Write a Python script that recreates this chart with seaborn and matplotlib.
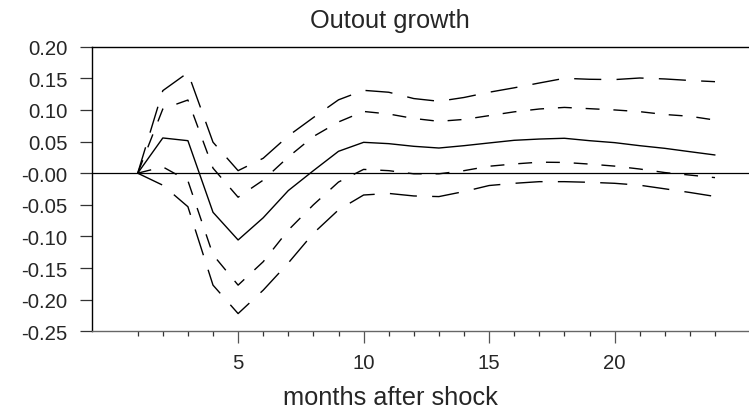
import numpy as np
import pandas as pd
import matplotlib
matplotlib.use("Agg")
import matplotlib.pyplot as plt
import seaborn as sns

months = list(range(1, 25))
response = [0, 0.0557, 0.0514, -0.0618, -0.1056, -0.0705, -0.0275, 0.004, 0.0346, 0.0488,
            0.0467, 0.0425, 0.0398, 0.0435, 0.0478, 0.052, 0.054, 0.0552, 0.0514, 0.0483,
            0.0435, 0.0393, 0.034, 0.0288]
inner_upper = [0, 0.1015, 0.1157, 0.008, -0.038, -0.011, 0.0256, 0.058, 0.081, 0.0976,
               0.0936, 0.0865, 0.082, 0.085, 0.091, 0.097, 0.1015, 0.104, 0.102, 0.100,
               0.0973, 0.0928, 0.090, 0.084]
outer_upper = [0, 0.1305, 0.1590, 0.049, 0.004, 0.0236, 0.059, 0.088, 0.116, 0.131,
               0.128, 0.118, 0.1137, 0.1197, 0.128, 0.135, 0.1426, 0.150, 0.1485, 0.148,
               0.1505, 0.149, 0.1466, 0.1447]
inner_lower = [0, 0.010, -0.012, -0.129, -0.177, -0.140, -0.090, -0.050, -0.014, 0.006,
               0.004, -0.001, -0.001, 0.004, 0.011, 0.0146, 0.0174, 0.017, 0.0144, 0.0112,
               0.0066, 0.001, -0.003, -0.007]
outer_lower = [0, -0.019, -0.053, -0.177, -0.222, -0.185, -0.142, -0.095, -0.058, -0.0345,
               -0.032, -0.036, -0.037, -0.029, -0.0195, -0.016, -0.0134, -0.0134, -0.0144, -0.016,
               -0.019, -0.0247, -0.0305, -0.0368]

y_ticks = [-0.25, -0.20, -0.15, -0.10, -0.05, 0.0, 0.05, 0.10, 0.15, 0.20]
y_tick_labels = ["-0.25", "-0.20", "-0.15", "-0.10", "-0.05", "-0.00", "0.05", "0.10", "0.15", "0.20"]
x_major = [5, 10, 15, 20]
title = "Outout growth"
xlabel = "months after shock"

sns.set_style("white")
plt.rcParams["font.family"] = ["Liberation Sans", "DejaVu Sans"]

fig = plt.figure(figsize=(7.49, 4.14), dpi=100)
W, H = 749, 414
ax = fig.add_axes([92 / W, 1 - 332.3 / H, (749 - 92) / W, (332.3 - 47.7) / H])

df = pd.DataFrame({"month": months, "response": response, "iu": inner_upper,
                   "ou": outer_upper, "il": inner_lower, "ol": outer_lower})

inner_dash = (0, (10, 10))
outer_dash = (0, (19.5, 11))
sns.lineplot(data=df, x="month", y="response", ax=ax, color="black", lw=1.0)
sns.lineplot(data=df, x="month", y="iu", ax=ax, color="black", lw=1.0, linestyle=inner_dash)
sns.lineplot(data=df, x="month", y="il", ax=ax, color="black", lw=1.0, linestyle=inner_dash)
sns.lineplot(data=df, x="month", y="ou", ax=ax, color="black", lw=1.0, linestyle=outer_dash)
sns.lineplot(data=df, x="month", y="ol", ax=ax, color="black", lw=1.0, linestyle=outer_dash)

ax.axhline(0, color="black", lw=0.9, zorder=1)

ax.set_xlim(1 - 45.7 / 25.1, 1 + (749 - 137.7) / 25.1)
ax.set_ylim(-0.25, 0.20)

ax.set_xticks(x_major)
ax.set_xticklabels([str(v) for v in x_major])
ax.set_xticks(months, minor=True)
ax.set_yticks(y_ticks)
ax.set_yticklabels(y_tick_labels)

ax.tick_params(axis="x", which="major", direction="out", length=8.6, width=0.9,
               color="#555555", labelsize=14.7, pad=7, bottom=True)
ax.tick_params(axis="x", which="minor", direction="out", length=3.8, width=0.9,
               color="#333333", bottom=True)
ax.tick_params(axis="y", which="major", direction="out", length=8.6, width=0.9,
               color="#333333", labelsize=14.7, pad=9, left=True)

for s in ["left", "top"]:
    ax.spines[s].set_color("black")
    ax.spines[s].set_linewidth(1.0)
ax.spines["bottom"].set_color("#666666")
ax.spines["bottom"].set_linewidth(1.0)
ax.spines["right"].set_visible(False)

ax.set_xlabel("")
ax.set_ylabel("")

fig.text(390 / W, 1 - 21 / H, title, ha="center", va="center", fontsize=18.3)
fig.text(390 / W, 1 - 398 / H, xlabel, ha="center", va="center", fontsize=18.3)

fig.savefig("out.png", dpi=100)
